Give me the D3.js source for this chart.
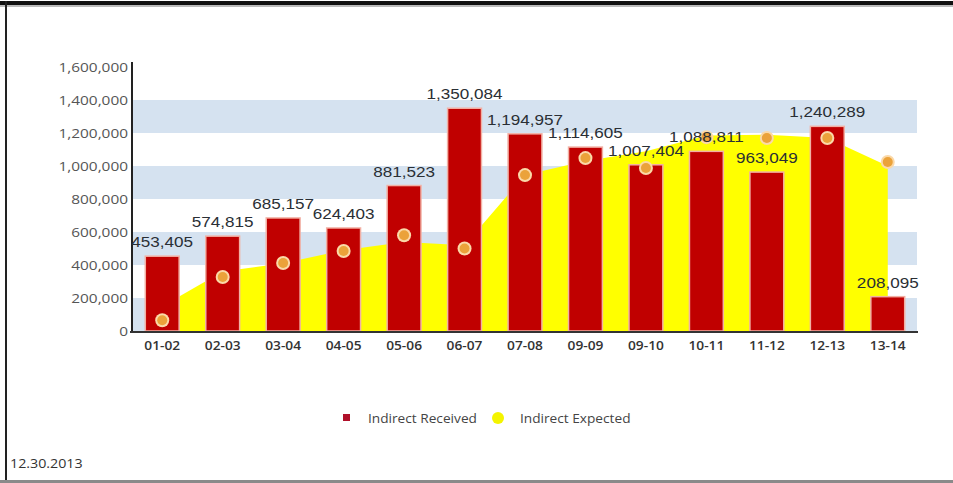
<!DOCTYPE html>
<html>
<head>
<meta charset="utf-8">
<script src="https://cdn.jsdelivr.net/npm/d3@7"></script>
<style>
  html, body { margin: 0; padding: 0; background: #fff; }
  svg { display: block; }
</style>
</head>
<body>
<svg id="chart" width="953" height="483"></svg>
<script>
// Fiscal-year periods
const categories = ["01-02", "02-03", "03-04", "04-05", "05-06", "06-07", "07-08",
                    "09-09", "09-10", "10-11", "11-12", "12-13", "13-14"];
// Indirect Received (bars)
const received = [453405, 574815, 685157, 624403, 881523, 1350084, 1194957,
                  1114605, 1007404, 1088811, 963049, 1240289, 208095];
// Indirect Expected (area)
const expected = [150000, 360000, 410000, 490000, 540000, 520000, 945000,
                  1030000, 1090000, 1185000, 1190000, 1170000, 1000000];
// Expected markers (dots)
const expectedMarkers = [65000, 327000, 412000, 485000, 580000, 500000, 945000,
                         1048000, 988000, 1175000, 1170000, 1170000, 1024000];
// Y axis ticks
const yTicks = [0, 200000, 400000, 600000, 800000, 1000000, 1200000, 1400000, 1600000];
const legendItems = ["Indirect Received", "Indirect Expected"];
const footerDate = "12.30.2013";

const svg = d3.select("#chart");
const W = 953, H = 483;
const plot = { left: 132, right: 918, top: 67, bottom: 331 };
const SX = 1.14; // horizontal stretch of text glyphs

const x = d3.scaleBand()
  .domain(categories)
  .range([plot.left, plot.right])
  .paddingInner(0.44)
  .paddingOuter(0.22);
const y = d3.scaleLinear().domain([0, 1600000]).range([plot.bottom, plot.top]);
const cx = c => x(c) + x.bandwidth() / 2;

// Frame
svg.append("rect").attr("x", 0).attr("y", 1).attr("width", W).attr("height", 4).attr("fill", "#111");
svg.append("rect").attr("x", 0).attr("y", 5).attr("width", W).attr("height", 2).attr("fill", "#bbb");
svg.append("rect").attr("x", 5).attr("y", 1).attr("width", 2).attr("height", H).attr("fill", "#222");
svg.append("rect").attr("x", 0).attr("y", 480).attr("width", W).attr("height", 3).attr("fill", "#8a8a8a");

// Alternating horizontal bands
const bandPairs = d3.pairs(yTicks).filter((_, i) => i % 2 === 0);
svg.append("g").selectAll("rect").data(bandPairs).join("rect")
  .attr("x", plot.left)
  .attr("width", 917 - plot.left)
  .attr("y", d => y(d[1]))
  .attr("height", d => y(d[0]) - y(d[1]))
  .attr("fill", "#d5e2f0");

// Expected area
const area = d3.area()
  .x((d, i) => cx(categories[i]))
  .y0(y(0))
  .y1(d => y(d));
svg.append("path").datum(expected)
  .attr("d", area)
  .attr("fill", "#ffff00");

// Received bars
svg.append("g").selectAll("rect").data(received).join("rect")
  .attr("x", (d, i) => x(categories[i]))
  .attr("width", x.bandwidth())
  .attr("y", d => y(d))
  .attr("height", d => y(0) - y(d))
  .attr("fill", "#c00000")
  .attr("stroke", "#f2b0a4")
  .attr("stroke-width", 1.5);

// Expected markers
const dots = svg.append("g").selectAll("g").data(expectedMarkers).join("g")
  .attr("transform", (d, i) => `translate(${cx(categories[i])},${y(d)})`);
dots.append("circle").attr("r", 7).attr("fill", "#fbd9a8");
dots.append("circle").attr("r", 5).attr("fill", "#eba23a");

// Stretched text helper
function stretched(g, px, py, str, anchor) {
  return g.append("text")
    .attr("transform", `translate(${px},${py}) scale(${SX},1)`)
    .attr("text-anchor", anchor || "start")
    .text(str);
}

// Axes
const yAxis = svg.append("g")
  .attr("transform", `translate(${plot.left},0)`)
  .call(d3.axisLeft(y).tickValues(yTicks).tickSize(0).tickFormat(d3.format(",")));
yAxis.select(".domain").remove();
yAxis.selectAll("text")
  .attr("x", -4 / SX)
  .attr("transform", `scale(${SX},1)`)
  .attr("dy", "0.36em")
  .attr("fill", "#555")
  .style("font-family", "'Open Sans', sans-serif")
  .style("font-size", "13.5px");

const xAxis = svg.append("g")
  .attr("transform", `translate(0,${plot.bottom + 1})`)
  .call(d3.axisBottom(x).tickSize(0));
xAxis.select(".domain").remove();
xAxis.selectAll("text")
  .attr("y", 0)
  .attr("dy", 0)
  .attr("transform", `translate(0,18) scale(${SX - 0.04},1)`)
  .attr("fill", "#333")
  .style("font-family", "'Open Sans', sans-serif")
  .style("font-weight", 600)
  .style("font-size", "12.5px");

svg.append("line")
  .attr("x1", plot.left).attr("x2", plot.left)
  .attr("y1", 62).attr("y2", plot.bottom + 2)
  .attr("stroke", "#222").attr("stroke-width", 2);
svg.append("line")
  .attr("x1", plot.left - 2).attr("x2", plot.right)
  .attr("y1", plot.bottom + 1).attr("y2", plot.bottom + 1)
  .attr("stroke", "#333").attr("stroke-width", 2);

// Value labels
const labels = svg.append("g")
  .attr("fill", "#2a2f35")
  .style("font-family", "'Liberation Sans', Arial, sans-serif")
  .style("font-size", "15px");
received.forEach((v, i) => {
  stretched(labels, cx(categories[i]), y(v) - 9, d3.format(",")(v), "middle");
});

// Legend
const legend = svg.append("g")
  .attr("fill", "#444")
  .style("font-family", "'Open Sans', sans-serif")
  .style("font-size", "12px");
legend.append("rect").attr("x", 343).attr("y", 414).attr("width", 7).attr("height", 7).attr("fill", "#b0102a");
stretched(legend, 368, 423, legendItems[0]);
legend.append("circle").attr("cx", 498).attr("cy", 418).attr("r", 6).attr("fill", "#f4f400");
stretched(legend, 520, 423, legendItems[1]);

// Footer date
const footer = svg.append("g")
  .attr("fill", "#333")
  .style("font-family", "'Open Sans', sans-serif")
  .style("font-size", "12.5px");
stretched(footer, 10, 468, footerDate);
</script>
</body>
</html>
